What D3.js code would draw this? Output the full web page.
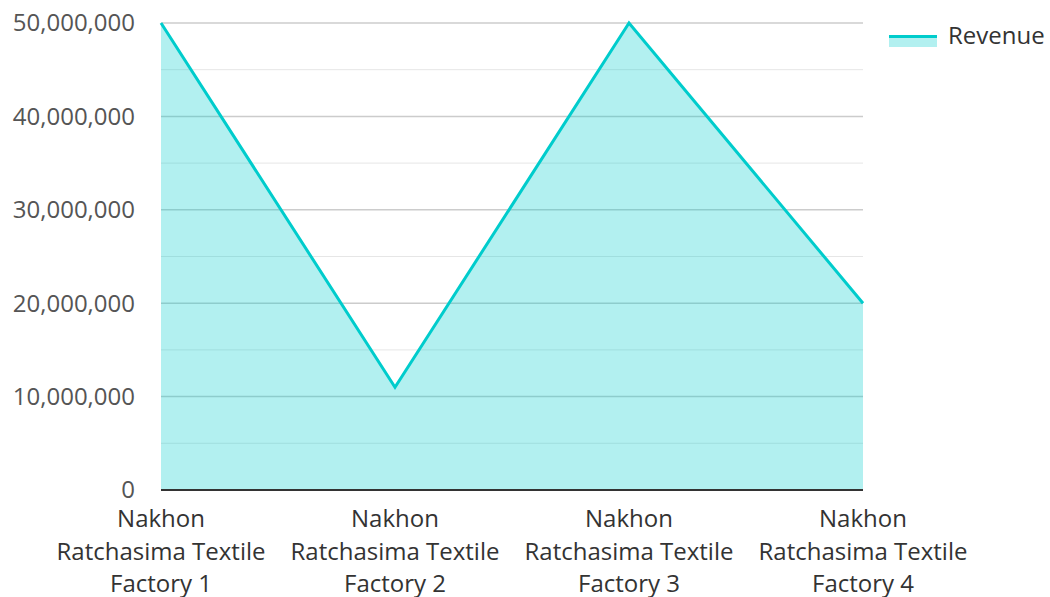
<html>
<head>
    <script src="https://d3js.org/d3.v7.min.js"></script>
</head>
<style>
    body { margin: 0; background: #fff; }
    text { font-family: "Open Sans", sans-serif; }
</style>
<body>
    <svg height="597" width="1050" id="chart"></svg>
</body>
<script>
    const categories = ['Nakhon Ratchasima Textile Factory 1', 'Nakhon Ratchasima Textile Factory 2',
                        'Nakhon Ratchasima Textile Factory 3', 'Nakhon Ratchasima Textile Factory 4'];
    const revenue = [50000000, 11000000, 50000000, 20000000];
    const yTicks = [0, 10000000, 20000000, 30000000, 40000000, 50000000];
    const minorTicks = [5000000, 15000000, 25000000, 35000000, 45000000];
    const seriesName = 'Revenue';

    let plt = d3.select('svg#chart');
    let margins = { "top": 23, "right": 187, "bottom": 107, "left": 161 };
    let inner_width = 1050 - margins.left - margins.right;
    let inner_height = 597 - margins.top - margins.bottom;

    let x = d3.scalePoint().domain(categories).range([0, inner_width]);
    let y = d3.scaleLinear().domain([0, 50000000]).range([inner_height, 0]);

    let g = plt.append('g').attr('transform', `translate(${margins.left},${margins.top})`);

    // gridlines
    g.selectAll('line.minor').data(minorTicks).join('line')
        .attr('x1', 0).attr('x2', inner_width)
        .attr('y1', d => y(d)).attr('y2', d => y(d))
        .attr('stroke', '#e6e6e6').attr('stroke-width', 1);
    g.selectAll('line.major').data(yTicks.slice(1)).join('line')
        .attr('x1', 0).attr('x2', inner_width)
        .attr('y1', d => y(d)).attr('y2', d => y(d))
        .attr('stroke', '#cccccc').attr('stroke-width', 1.5);

    let data = categories.map((c, i) => ({ c: c, v: revenue[i] }));

    let area = d3.area().x(d => x(d.c)).y0(y(0)).y1(d => y(d.v));
    g.append('path').datum(data).attr('d', area)
        .attr('fill', 'rgba(0, 204, 204, 0.3)');

    let line = d3.line().x(d => x(d.c)).y(d => y(d.v));
    g.append('path').datum(data).attr('d', line)
        .attr('fill', 'none').attr('stroke', '#00cccc').attr('stroke-width', 3)
        .attr('stroke-linejoin', 'miter');

    // baseline
    g.append('line').attr('x1', 0).attr('x2', inner_width)
        .attr('y1', y(0)).attr('y2', y(0))
        .attr('stroke', '#333').attr('stroke-width', 2);

    // y labels
    g.selectAll('text.ylab').data(yTicks).join('text')
        .attr('class', 'ylab')
        .attr('x', -26).attr('y', d => y(d))
        .attr('dy', '0.35em')
        .attr('text-anchor', 'end')
        .attr('font-size', 24).attr('fill', '#555')
        .text(d => d3.format(',')(d));

    // x labels wrapped to 3 lines
    let xl = g.selectAll('text.xlab').data(categories).join('text')
        .attr('class', 'xlab')
        .attr('text-anchor', 'middle')
        .attr('font-size', 24).attr('fill', '#333');
    xl.each(function(d) {
        let words = d.split(' ');
        let lines = [words[0], words[1] + ' ' + words[2], words[3] + ' ' + words[4]];
        d3.select(this).selectAll('tspan').data(lines).join('tspan')
            .attr('x', x(d))
            .attr('y', (l, i) => inner_height + 37 + i * 32.5)
            .text(l => l);
    });

    // legend
    let lg = plt.append('g').attr('transform', 'translate(889,35)');
    lg.append('rect').attr('x', 0).attr('y', 0).attr('width', 48).attr('height', 12)
        .attr('fill', 'rgba(0, 204, 204, 0.3)');
    lg.append('line').attr('x1', 0).attr('x2', 48).attr('y1', 1.5).attr('y2', 1.5)
        .attr('stroke', '#00cccc').attr('stroke-width', 3);
    lg.append('text').attr('x', 59).attr('y', 1).attr('dy', '0.35em')
        .attr('font-size', 24).attr('fill', '#333').text(seriesName);
</script>
</html>
